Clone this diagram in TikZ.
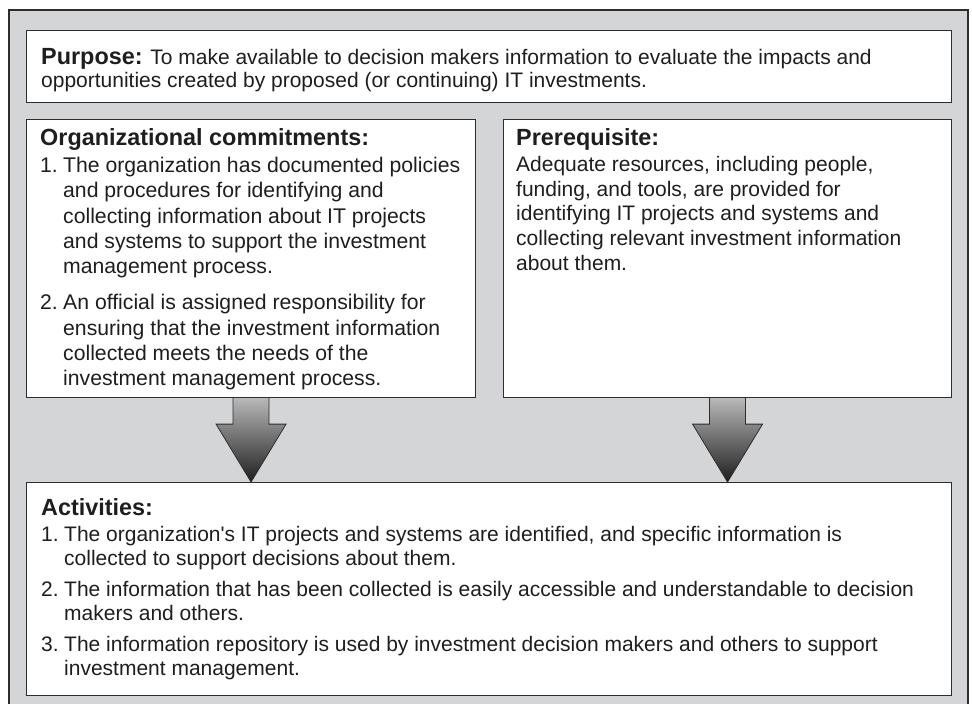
\documentclass[tikz,border=0pt]{standalone}
\usepackage{fontspec}
\setmainfont{Liberation Sans}
\usetikzlibrary{calc}
\definecolor{panel}{RGB}{212,213,215}
\definecolor{edge}{RGB}{45,45,45}
\definecolor{ink}{RGB}{30,30,30}
\tikzset{
  box/.style={draw=edge, line width=1.1pt, fill=white, anchor=north west, inner sep=0pt},
  txt/.style={anchor=north west, inner sep=0pt, align=left, text=ink},
  blockarrow/.style={draw=edge, line width=0.8pt, top color=black!28, bottom color=black!88},
}
\newcommand\hd[1]{{\fontsize{23.4}{25}\selectfont\bfseries #1}}
\newcommand\ind{\hspace*{23pt}}
\newcommand\num[1]{\makebox[23pt][l]{#1}}
\begin{document}
\begin{tikzpicture}[x=1pt,y=-1pt]
\useasboundingbox (0,0) rectangle (972,704);
\draw[draw=edge, line width=1.2pt, fill=panel] (9,10) rectangle (968,712);
\node[box, minimum width=925pt, minimum height=72pt] (purpose) at (26,30) {};
\node[box, minimum width=449pt, minimum height=278pt] (org) at (26,119) {};
\node[box, minimum width=448pt, minimum height=278pt] (prereq) at (503,119) {};
\node[box, minimum width=925pt, minimum height=213pt] (act) at (26,482) {};
% arrows
\draw[blockarrow] ($(org.south)+(-18,0)$) -- ($(org.south)+(-18,26)$) -- ($(org.south)+(-35,26)$)
  -- (org.south |- act.north) -- ($(org.south)+(35,26)$) -- ($(org.south)+(18,26)$) -- ($(org.south)+(18,0)$);
\draw[blockarrow] ($(prereq.south)+(-18,0)$) -- ($(prereq.south)+(-18,26)$) -- ($(prereq.south)+(-35,26)$)
  -- (prereq.south |- act.north) -- ($(prereq.south)+(35,26)$) -- ($(prereq.south)+(18,26)$) -- ($(prereq.south)+(18,0)$);
% texts
\node[txt, font=\fontsize{21}{23.5}\selectfont] (tpurpose) at (41,48)
  {\hd{Purpose:} To make available to decision makers information to evaluate the impacts and\\
   opportunities created by proposed (or continuing) IT investments.};
\node[txt, font=\fontsize{21.2}{25.3}\selectfont] (torg) at (40,128)
  {\hd{Organizational commitments:}\\[2pt]
   \num{1.}The organization has documented policies\\
   \ind and procedures for identifying and\\
   \ind collecting information about IT projects\\
   \ind and systems to support the investment\\
   \ind management process.\\[11pt]
   \num{2.}An official is assigned responsibility for\\
   \ind ensuring that the investment information\\
   \ind collected meets the needs of the\\
   \ind investment management process.};
\node[txt, font=\fontsize{21}{24.6}\selectfont] (tprereq) at (516,128)
  {\hd{Prerequisite:}\\[2pt]
   Adequate resources, including people,\\
   funding, and tools, are provided for\\
   identifying IT projects and systems and\\
   collecting relevant investment information\\
   about them.};
\node[txt, font=\fontsize{21}{23.5}\selectfont] (tact) at (41,498)
  {\hd{Activities:}\\[3pt]
   \num{1.}The organization\textquotesingle s IT projects and systems are identified, and specific information is\\
   \ind collected to support decisions about them.\\[8pt]
   \num{2.}The information that has been collected is easily accessible and understandable to decision\\
   \ind makers and others.\\[8pt]
   \num{3.}The information repository is used by investment decision makers and others to support\\
   \ind investment management.};
\end{tikzpicture}
\end{document}
